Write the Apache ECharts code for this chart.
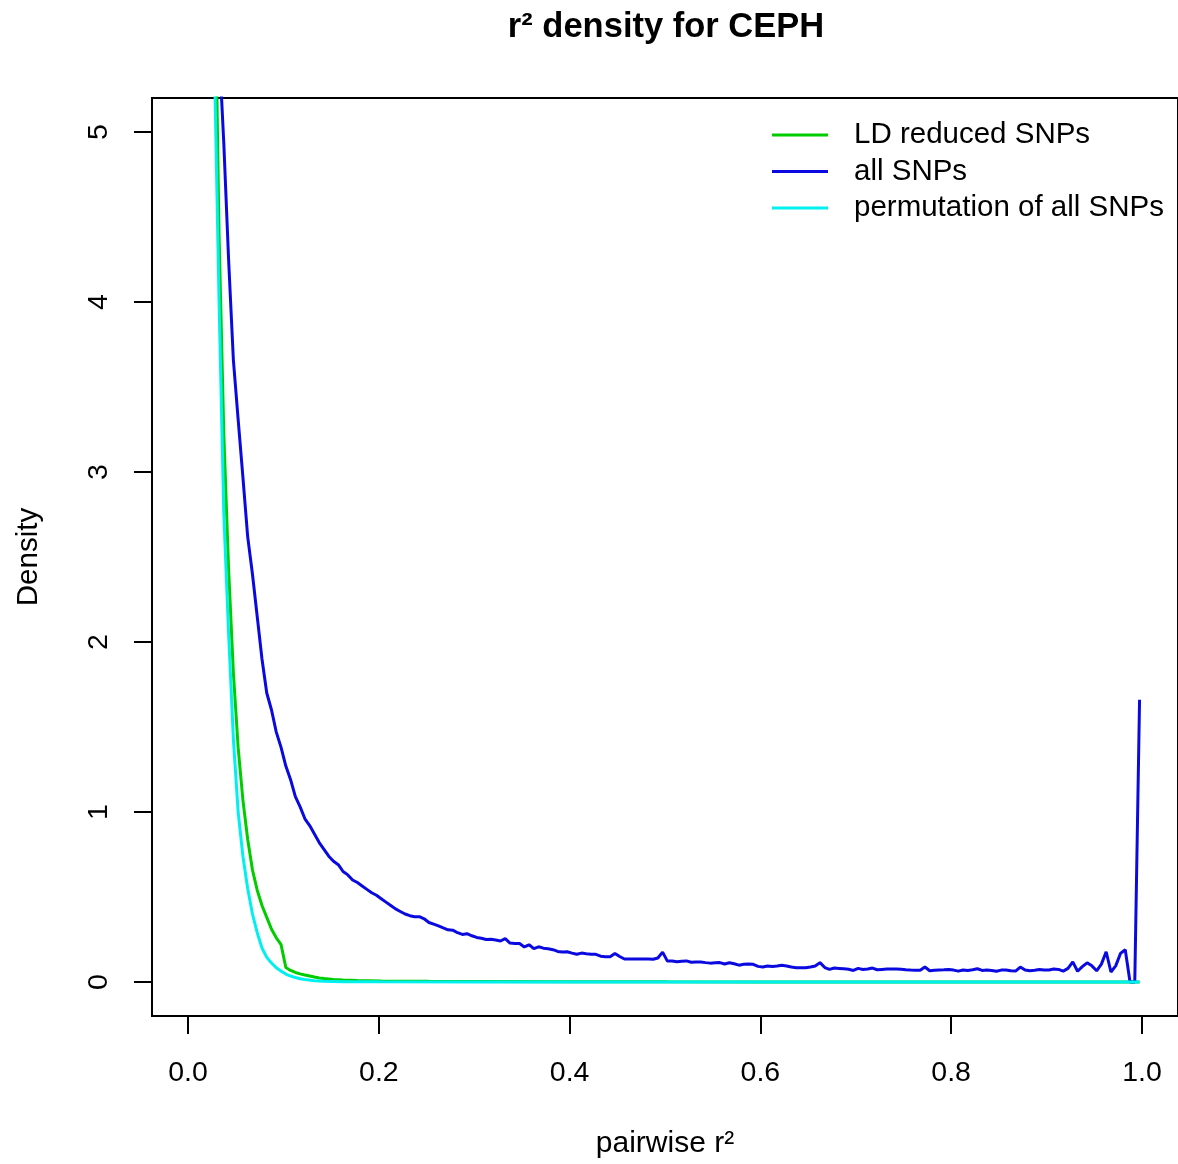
<!DOCTYPE html>
<html><head><meta charset="utf-8">
<script src="https://cdn.jsdelivr.net/npm/echarts@6/dist/echarts.min.js"></script>
<style>html,body{margin:0;padding:0;background:#fff}#c{width:1178px;height:1164px}</style>
</head><body><div id="c"></div><script>
const titleText = 'r² density for CEPH';
const xName = 'pairwise r²';
const yName = 'Density';
const seriesNames = ['LD reduced SNPs', 'all SNPs', 'permutation of all SNPs'];
const xTicks = [0, 0.2, 0.4, 0.6, 0.8, 1.0];
const yTicks = [0, 1, 2, 3, 4, 5];

// LD reduced SNPs
const ldX = [0.0225,0.0275,0.0325,0.0375,0.0425,0.0475,0.0525,0.0575,0.0625,0.0675,
  0.0725,0.0775,0.0825,0.0875,0.0925,0.0975,0.1025,0.1075,0.1125,0.1175,
  0.1225,0.1275,0.1325,0.1375,0.1425,0.1525,0.1625,0.1775,0.2025,0.2525,
  0.3025,0.4025,0.5025,0.6025,0.9975];
const ldY = [8.5,6.2,4.4,3.22,2.43,1.82,1.38,1.07,0.84,0.66,
  0.54,0.45,0.38,0.31,0.26,0.22,0.085,0.068,0.056,0.048,
  0.041,0.035,0.029,0.024,0.02,0.015,0.012,0.009,0.006,0.004,
  0.003,0.002,0.001,0.0005,0];

// all SNPs
const allX = [
  0.0275,0.0325,0.0375,0.0425,0.0475,0.0525,0.0575,0.0625,0.0675,0.0725,
  0.0775,0.0825,0.0875,0.0925,0.0975,0.1025,0.1075,0.1125,0.1175,0.1225,
  0.1275,0.1325,0.1375,0.1425,0.1475,0.1525,0.1575,0.1625,0.1675,0.1725,
  0.1775,0.1825,0.1875,0.1925,0.1975,0.2025,0.2075,0.2125,0.2175,0.2225,
  0.2275,0.2325,0.2375,0.2425,0.2475,0.2525,0.2575,0.2625,0.2675,0.2725,
  0.2775,0.2825,0.2875,0.2925,0.2975,0.3025,0.3075,0.3125,0.3175,0.3225,
  0.3275,0.3325,0.3375,0.3425,0.3475,0.3525,0.3575,0.3625,0.3675,0.3725,
  0.3775,0.3825,0.3875,0.3925,0.3975,0.4025,0.4075,0.4125,0.4175,0.4225,
  0.4275,0.4325,0.4375,0.4425,0.4475,0.4525,0.4575,0.4625,0.4675,0.4725,
  0.4775,0.4825,0.4875,0.4925,0.4975,0.5025,0.5075,0.5125,0.5175,0.5225,
  0.5275,0.5325,0.5375,0.5425,0.5475,0.5525,0.5575,0.5625,0.5675,0.5725,
  0.5775,0.5825,0.5875,0.5925,0.5975,0.6025,0.6075,0.6125,0.6175,0.6225,
  0.6275,0.6325,0.6375,0.6425,0.6475,0.6525,0.6575,0.6625,0.6675,0.6725,
  0.6775,0.6825,0.6875,0.6925,0.6975,0.7025,0.7075,0.7125,0.7175,0.7225,
  0.7275,0.7325,0.7375,0.7425,0.7475,0.7525,0.7575,0.7625,0.7675,0.7725,
  0.7775,0.7825,0.7875,0.7925,0.7975,0.8025,0.8075,0.8125,0.8175,0.8225,
  0.8275,0.8325,0.8375,0.8425,0.8475,0.8525,0.8575,0.8625,0.8675,0.8725,
  0.8775,0.8825,0.8875,0.8925,0.8975,0.9025,0.9075,0.9125,0.9175,0.9225,
  0.9275,0.9325,0.9375,0.9425,0.9475,0.9525,0.9575,0.9625,0.9675,0.9725,
  0.9775,0.9825,0.9875,0.9925,0.9975];
const allY = [
  6.3,5.5,4.93,4.25,3.66,3.31,2.97,2.62,2.40,2.15,
  1.90,1.70,1.60,1.47,1.38,1.27,1.19,1.09,1.03,0.96,
  0.92,0.87,0.82,0.78,0.74,0.71,0.69,0.65,0.63,0.60,
  0.585,0.565,0.545,0.525,0.51,0.49,0.47,0.45,0.43,0.415,
  0.40,0.39,0.384,0.384,0.372,0.35,0.34,0.33,0.318,0.307,
  0.305,0.29,0.28,0.284,0.272,0.262,0.257,0.25,0.252,0.247,
  0.241,0.255,0.229,0.227,0.226,0.206,0.219,0.196,0.207,0.199,
  0.196,0.19,0.18,0.176,0.178,0.17,0.163,0.17,0.166,0.163,
  0.163,0.152,0.149,0.149,0.168,0.15,0.135,0.136,0.136,0.135,
  0.135,0.135,0.134,0.141,0.176,0.123,0.123,0.119,0.122,0.124,
  0.116,0.118,0.118,0.114,0.111,0.113,0.114,0.106,0.113,0.107,
  0.099,0.104,0.106,0.104,0.092,0.088,0.094,0.091,0.094,0.099,
  0.094,0.088,0.084,0.084,0.084,0.088,0.094,0.114,0.085,0.074,
  0.082,0.08,0.078,0.075,0.068,0.08,0.074,0.076,0.082,0.072,
  0.074,0.076,0.076,0.077,0.075,0.072,0.07,0.069,0.069,0.088,
  0.066,0.069,0.071,0.072,0.074,0.07,0.064,0.071,0.068,0.072,
  0.078,0.068,0.07,0.068,0.063,0.07,0.071,0.066,0.064,0.088,
  0.07,0.066,0.069,0.073,0.07,0.071,0.076,0.074,0.064,0.08,
  0.118,0.063,0.09,0.113,0.095,0.066,0.105,0.178,0.059,0.095,
  0.168,0.19,0,0,1.66];

// permutation of all SNPs
const permX = [0.0225,0.0275,0.0325,0.0375,0.0425,0.0475,0.0525,0.0575,0.0625,0.0675,
  0.0725,0.0775,0.0825,0.0875,0.0925,0.0975,0.1025,0.1075,0.1125,0.1175,
  0.1225,0.1325,0.1425,0.1625,0.2025,0.3025,0.9975];
const permY = [7.0,5.45,4.0,2.75,2.05,1.43,1.0,0.74,0.55,0.40,
  0.29,0.20,0.145,0.112,0.084,0.064,0.047,0.035,0.026,0.019,
  0.015,0.008,0.005,0.002,0.001,0,0];

const colors = ['#00cd00', '#0a0ae0', '#00f0f0'];
const font = '"Liberation Sans", Arial, Helvetica, sans-serif';
const zip = (xs, ys) => xs.map((x, i) => [x, ys[i]]);
const seriesData = [zip(ldX, ldY), zip(allX, allY), zip(permX, permY)];

const chart = echarts.init(document.getElementById('c'), null, {renderer: 'canvas'});
chart.setOption({
  animation: false,
  backgroundColor: '#fff',
  title: {
    text: titleText, left: 661, top: 5, textAlign: 'center',
    textStyle: {fontFamily: font, fontSize: 34.5, fontWeight: 'bold', color: '#000'}
  },
  legend: {
    orient: 'vertical', left: 767, top: 115,
    icon: 'rect', itemWidth: 56, itemHeight: 3, itemGap: 6.5,
    textStyle: {fontFamily: font, fontSize: 29.5, color: '#000', lineHeight: 30, padding: [0, 0, 0, 21]},
    data: seriesNames
  },
  grid: {
    left: 152, top: 98, width: 1028, height: 920,
    show: true, borderColor: '#000', borderWidth: 2, backgroundColor: 'transparent'
  },
  xAxis: {
    type: 'value', min: -0.0378, max: 1.0378,
    axisLine: {show: false, onZero: false}, splitLine: {show: false},
    axisTick: {show: true, inside: false, length: 18, lineStyle: {color: '#000', width: 2}, customValues: xTicks},
    axisLabel: {customValues: xTicks, margin: 43, fontSize: 28.5, color: '#000', fontFamily: font,
      formatter: v => Number(v).toFixed(1)},
    name: xName, nameLocation: 'middle', nameGap: 113,
    nameTextStyle: {fontSize: 30, color: '#000', fontFamily: font}
  },
  yAxis: {
    type: 'value', min: -0.2, max: 5.2,
    axisLine: {show: false, onZero: false}, splitLine: {show: false},
    axisTick: {show: true, inside: false, length: 18, lineStyle: {color: '#000', width: 2}, customValues: yTicks},
    axisLabel: {customValues: yTicks, rotate: 90, margin: 38, fontSize: 28.5, color: '#000', fontFamily: font,
      formatter: v => String(v)},
    name: yName, nameLocation: 'middle', nameGap: 108, nameRotate: 90,
    nameTextStyle: {fontSize: 29.5, color: '#000', fontFamily: font}
  },
  series: seriesNames.map((n, i) => ({
    name: n, type: 'line', data: seriesData[i], symbol: 'none', showSymbol: false,
    clip: true, smooth: false,
    lineStyle: {color: colors[i], width: 3},
    itemStyle: {color: colors[i]}
  }))
});
</script></body></html>
